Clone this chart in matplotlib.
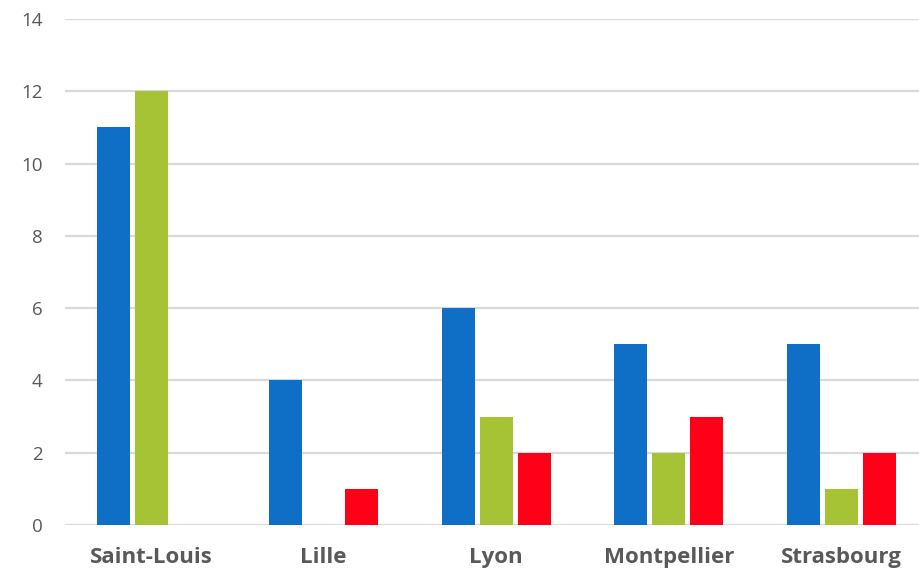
import matplotlib
matplotlib.use("Agg")
import matplotlib.pyplot as plt
import numpy as np

categories = ["Saint-Louis", "Lille", "Lyon", "Montpellier", "Strasbourg"]
series_blue = [11, 4, 6, 5, 5]
series_green = [12, 0, 3, 2, 1]
series_red = [0, 1, 2, 3, 2]
yticks = [0, 2, 4, 6, 8, 10, 12, 14]

colors = ["#0F6FC6", "#A5C334", "#FF0019"]

fig = plt.figure(figsize=(9.2, 5.71), dpi=100)
ax = fig.add_axes([65/920, 46/571, 1 - 65/920, (525-19)/571])

x = np.arange(len(categories))
w = 0.19
step = 0.22
for i, (vals, c) in enumerate(zip([series_blue, series_green, series_red], colors)):
    ax.bar(x + (i - 1) * step, vals, width=w, color=c, zorder=3)

ax.set_xlim(-0.5, 4.457)
ax.set_ylim(0, 14)
ax.set_yticks(yticks)
ax.set_xticks(x)
ax.set_xticklabels(categories, fontfamily="Open Sans", fontweight="bold", fontsize=16, color="#595959")
for lbl in ax.get_yticklabels():
    lbl.set_fontfamily("Open Sans")
    lbl.set_fontsize(13.5)
    lbl.set_color("#595959")
ax.tick_params(axis="y", length=0, pad=16)
ax.tick_params(axis="x", length=0, pad=16)
ax.grid(axis="y", color="#D9D9D9", linewidth=1.6, zorder=0)
for s in ax.spines.values():
    s.set_visible(False)

fig.savefig("out.png", dpi=100, facecolor="white")
